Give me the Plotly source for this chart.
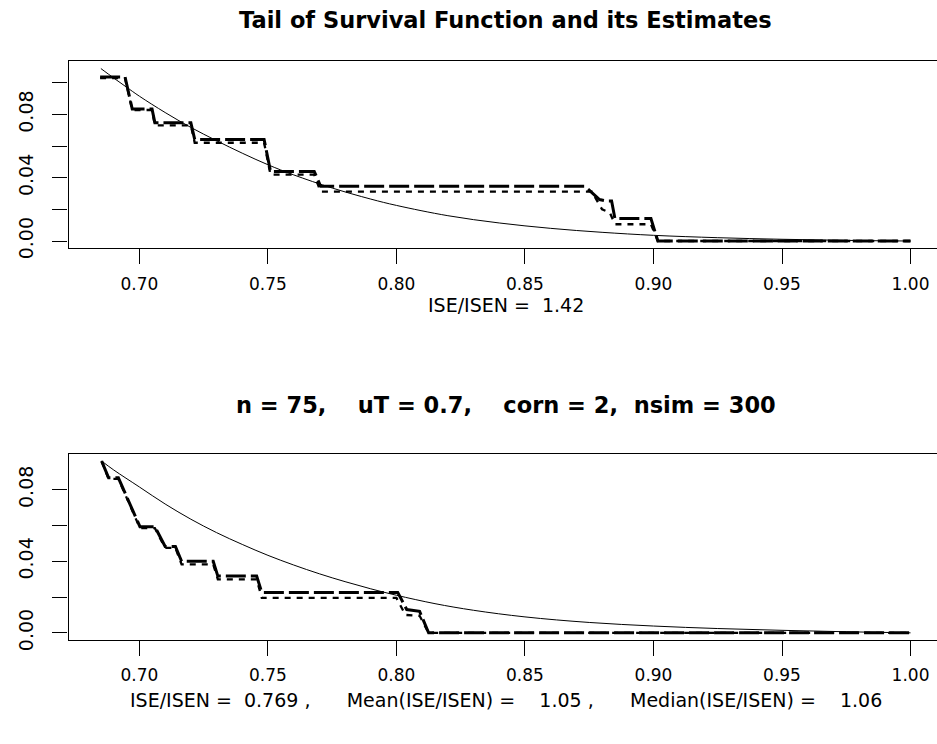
import plotly.graph_objects as go

# ---------------- data ----------------
tick_x = [0.70, 0.75, 0.80, 0.85, 0.90, 0.95, 1.00]
tick_x_text = ["0.70", "0.75", "0.80", "0.85", "0.90", "0.95", "1.00"]

top_tick_y = [0.00, 0.02, 0.04, 0.06, 0.08, 0.10]
top_tick_y_text = ["0.00", "", "0.04", "", "0.08", ""]
bot_tick_y = [0.00, 0.02, 0.04, 0.06, 0.08]
bot_tick_y_text = ["0.00", "", "0.04", "", "0.08"]

# true tail of survival function (top panel)
top_true_x = [0.685, 0.690, 0.695, 0.700, 0.710, 0.720, 0.730, 0.740, 0.750, 0.760, 0.775, 0.790, 0.800,
              0.820, 0.840, 0.860, 0.880, 0.900, 0.925, 0.950, 0.975, 1.000]
top_true_y = [0.1090, 0.1030, 0.0972, 0.0915, 0.0812, 0.0718, 0.0634, 0.0555, 0.0482, 0.0418, 0.0335, 0.0265, 0.0225,
              0.0160, 0.0114, 0.0080, 0.0055, 0.0036, 0.0021, 0.0011, 0.0004, 0.0000]

# estimate 1 (dashed) top panel
top_est1_x = [0.6847, 0.6944, 0.6972, 0.7049, 0.7060, 0.7200, 0.7215, 0.7485, 0.7510, 0.7680, 0.7705, 0.8733, 0.8790, 0.8818, 0.8837, 0.8850, 0.8990, 0.9017, 1.0000]
top_est1_y = [0.1036, 0.1036, 0.0834, 0.0834, 0.0748, 0.0748, 0.0642, 0.0642, 0.0440, 0.0440, 0.0346, 0.0346, 0.0262, 0.0253, 0.0253, 0.0142, 0.0142, 0.0000, 0.0000]

# estimate 2 (dotted) top panel
top_est2_x = [0.6847, 0.6944, 0.6972, 0.7049, 0.7060, 0.7200, 0.7215, 0.7485, 0.7510, 0.7680, 0.7705, 0.8760, 0.8800, 0.8830, 0.8850, 0.8990, 0.9017, 1.0000]
top_est2_y = [0.1030, 0.1030, 0.0828, 0.0828, 0.0731, 0.0731, 0.0621, 0.0621, 0.0419, 0.0419, 0.0312, 0.0312, 0.0200, 0.0180, 0.0106, 0.0106, 0.0000, 0.0000]

# bottom panel
bot_true_x = [0.6853, 0.690, 0.700, 0.710, 0.720, 0.730, 0.740, 0.750, 0.760, 0.770, 0.780, 0.790, 0.800,
              0.815, 0.830, 0.850, 0.875, 0.900, 0.925, 0.950, 0.975, 1.000]
bot_true_y = [0.0960, 0.0910, 0.0815, 0.0720, 0.0635, 0.0560, 0.0494, 0.0433, 0.0379, 0.0330, 0.0286, 0.0246, 0.0210,
              0.0163, 0.0126, 0.0089, 0.0058, 0.0038, 0.0024, 0.0014, 0.0006, 0.0000]

bot_est1_x = [0.6853, 0.6880, 0.6918, 0.6996, 0.7002, 0.7060, 0.7100, 0.7140, 0.7164, 0.7287, 0.7305, 0.7456, 0.7476, 0.8005, 0.8040, 0.8090, 0.8125, 1.0000]
bot_est1_y = [0.0960, 0.0866, 0.0866, 0.0620, 0.0593, 0.0593, 0.0483, 0.0483, 0.0400, 0.0400, 0.0317, 0.0317, 0.0226, 0.0226, 0.0130, 0.0120, 0.0000, 0.0000]

bot_est2_x = [0.6853, 0.6880, 0.6918, 0.6996, 0.7002, 0.7060, 0.7100, 0.7140, 0.7164, 0.7287, 0.7305, 0.7456, 0.7476, 0.8000, 0.8035, 0.8090, 0.8125, 1.0000]
bot_est2_y = [0.0960, 0.0860, 0.0860, 0.0610, 0.0585, 0.0585, 0.0475, 0.0475, 0.0382, 0.0382, 0.0299, 0.0299, 0.0195, 0.0195, 0.0100, 0.0095, 0.0000, 0.0000]

title_text = "Tail of Survival Function and its Estimates"
top_caption = "ISE/ISEN =  1.42"
mid_title = "n = 75,    uT = 0.7,    corn = 2,  nsim = 300"
bot_caption = "ISE/ISEN =  0.769 ,      Mean(ISE/ISEN) =    1.05 ,      Median(ISE/ISEN) =    1.06"

# ---------------- figure ----------------
W, H = 937, 744
FONT = "DejaVu Sans, Liberation Sans, Arial, sans-serif"

fig = go.Figure()

def add_panel(xs, ys, xa, ya):
    fig.add_trace(go.Scatter(x=xs[0], y=ys[0], mode="lines", xaxis=xa, yaxis=ya,
                             line=dict(color="black", width=1, shape="spline", smoothing=1.0),
                             showlegend=False, hoverinfo="skip"))
    fig.add_trace(go.Scatter(x=xs[1], y=ys[1], mode="lines", xaxis=xa, yaxis=ya,
                             line=dict(color="black", width=3, dash="20px,5px"),
                             showlegend=False, hoverinfo="skip"))
    fig.add_trace(go.Scatter(x=xs[2], y=ys[2], mode="lines", xaxis=xa, yaxis=ya,
                             line=dict(color="black", width=2.3, dash="6px,6px"),
                             showlegend=False, hoverinfo="skip"))

add_panel([top_true_x, top_est1_x, top_est2_x], [top_true_y, top_est1_y, top_est2_y], "x", "y")
add_panel([bot_true_x, bot_est1_x, bot_est2_x], [bot_true_y, bot_est1_y, bot_est2_y], "x2", "y2")

def py(p):
    return 1 - p / H

left = 68.5 / W
xr = [0.6724, 1.0103]

line_common = dict(showgrid=False, zeroline=False, showline=True, linecolor="black", linewidth=1.3,
                   ticks="outside", ticklen=15, tickwidth=1, tickcolor="black")
xfont = dict(family=FONT, size=17, color="black")
yfont = dict(family=FONT, size=19, color="black")

fig.update_layout(
    width=W, height=H, margin=dict(l=0, r=0, t=0, b=0, pad=0),
    paper_bgcolor="white", plot_bgcolor="white",
    xaxis=dict(domain=[left, 1], range=xr, tickvals=tick_x, ticktext=tick_x_text, mirror=True,
               anchor="y", ticklabelstandoff=5, tickfont=xfont, **line_common),
    yaxis=dict(domain=[py(251.7), py(61.7)], range=[-0.0044, 0.1139], tickvals=top_tick_y,
               ticktext=top_tick_y_text, tickangle=-90, mirror=False, anchor="x",
               ticklabelstandoff=12, tickfont=yfont, **line_common),
    xaxis2=dict(domain=[left, 1], range=xr, tickvals=tick_x, ticktext=tick_x_text, mirror=True,
                anchor="y2", ticklabelstandoff=5, tickfont=xfont, **line_common),
    yaxis2=dict(domain=[py(649.3), py(461)], range=[-0.00384, 0.09984], tickvals=bot_tick_y,
                ticktext=bot_tick_y_text, tickangle=-90, mirror=False, anchor="x2",
                ticklabelstandoff=12, tickfont=yfont, **line_common),
)

cx = 505.7 / W
fig.add_annotation(text="<b>" + title_text + "</b>", x=cx, y=py(20), xref="paper", yref="paper",
                   showarrow=False, xanchor="center", yanchor="middle",
                   font=dict(family=FONT, size=22.5, color="black"))
fig.add_annotation(text=top_caption, x=cx, y=py(310), xref="paper", yref="paper",
                   showarrow=False, xanchor="center", yanchor="middle",
                   font=dict(family=FONT, size=19, color="black"))
fig.add_annotation(text="<b>" + mid_title + "</b>", x=cx, y=py(411), xref="paper", yref="paper",
                   showarrow=False, xanchor="center", yanchor="middle",
                   font=dict(family=FONT, size=22.5, color="black"))
fig.add_annotation(text=bot_caption, x=cx, y=py(710), xref="paper", yref="paper",
                   showarrow=False, xanchor="center", yanchor="middle",
                   font=dict(family=FONT, size=19, color="black"))

fig.write_html("out.html")
